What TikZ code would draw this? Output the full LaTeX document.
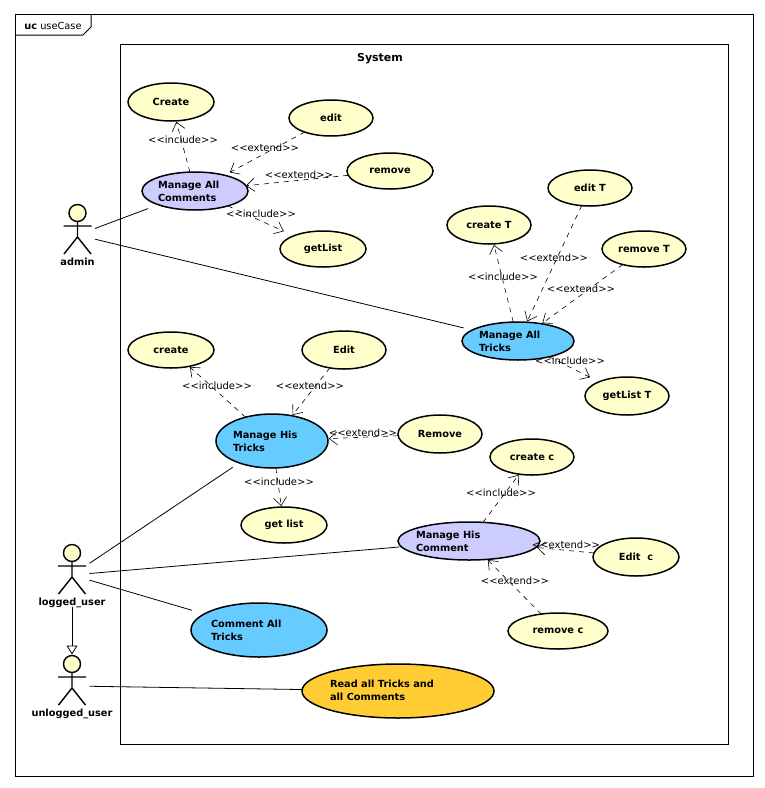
\documentclass[tikz,border=0pt]{standalone}
\usepackage{fontspec}
\setmainfont{DejaVu Sans}
\usetikzlibrary{arrows.meta,shapes.geometric}
\definecolor{case yellow}{HTML}{FFFFCC}
\definecolor{case lavender}{HTML}{CCCCFF}
\definecolor{case blue}{HTML}{66CCFF}
\definecolor{case orange}{HTML}{FFCC33}
\tikzset{
    x={1pt},
    y={-1pt},
    frame line/.style={
        draw=black,
        line width={1pt},
    },
    usecase/.style={
        ellipse, draw=black, fill={#1},
        line width={1.5pt},
        inner sep=0pt, outer sep=0pt,
        font={\fontsize{9.8}{12.5}\selectfont\bfseries},
    },
    usecase/.default={case yellow},
    case size/.style 2 args={
        minimum width={2*#1}, minimum height={2*#2},
    },
    case text/.style={
        anchor=west, align=left,
        inner sep=0pt, outer sep=0pt,
        font={\fontsize{9.8}{12.5}\selectfont\bfseries},
    },
    stereotype/.style={
        inner sep=0pt, outer sep=0pt,
        font={\fontsize{10}{12}\selectfont},
    },
    dependency/.style={
        draw=black,
        dash pattern=on 5pt off 5pt,
        line width={0.6pt},
        -{Straight Barb[length=8pt,width=13pt]},
    },
    association/.style={
        draw=black,
        line width={0.8pt},
    },
    generalization/.style={
        draw=black,
        line width={0.8pt},
        -{Triangle[open,length=9pt,width=11pt]},
    },
    actor/.style={
        rectangle, inner sep=0pt, outer sep=0pt,
        minimum width={35}, minimum height={63},
    },
    actor label/.style={
        inner sep=0pt, outer sep=0pt,
        font={\fontsize{9.8}{12}\selectfont\bfseries},
    },
    actor figure/.pic={
        \draw[line width={1.4pt}, fill=case yellow] (0,-22) circle [radius=8.5pt];
        \draw[line width={1.4pt}] (0,-13.5) -- (0,2) (-14,-9) -- (14,-9)
            (-13.5,19) -- (0,2) -- (13.5,19);
    },
}

\begin{document}
\begin{tikzpicture}
\useasboundingbox (0,0) rectangle (765,788);
% frames
\path[frame line] (15,14) rectangle (753,776);
\path[frame line] (15,35) -- (83,35) -- (91,27) -- (91,14);
\node[inner sep=0pt, font={\fontsize{9.8}{12}\selectfont}] (frame title) at (53,26) {\textbf{uc} useCase};
\path[frame line] (120,44) rectangle (728,744);
\node[inner sep=0pt, font={\fontsize{11}{13}\selectfont\bfseries}] (system title) at (380,59) {System};
% actors
\node[actor] (admin) at (77.5,235) {};
\node[actor] (logged) at (72,575) {};
\node[actor] (unlogged) at (72,686) {};
\pic at (admin) {actor figure};
\pic at (logged) {actor figure};
\pic at (unlogged) {actor figure};
\node[actor label] (admin label) at (77.5,262) {admin};
\node[actor label] (logged label) at (72,603) {logged\_user};
\node[actor label] (unlogged label) at (72,714) {unlogged\_user};
% use cases
\node[usecase, case size={43}{19}] (create a) at (171,102) {Create};
\node[usecase, case size={42}{18}] (edit a) at (331,118) {edit};
\node[usecase, case size={43}{18}] (remove a) at (390,171) {remove};
\node[usecase={case lavender}, case size={53}{19}] (manage comments) at (195,191) {};
\node[case text] (manage comments text) at (158,191.5) {Manage All\\Comments};
\node[usecase, case size={43}{18}] (getlist a) at (323,249) {getList};
\node[usecase, case size={42}{19}] (create t) at (489,225) {create T};
\node[usecase, case size={42}{18}] (edit t) at (590,188) {edit T};
\node[usecase, case size={42}{18}] (remove t) at (644,249) {remove T};
\node[usecase={case blue}, case size={56}{19}] (manage tricks) at (518,341) {};
\node[case text] (manage tricks text) at (479,341.5) {Manage All\\Tricks};
\node[usecase, case size={42}{19}] (getlist t) at (627,396) {getList T};
\node[usecase, case size={43}{18}] (create h) at (171,350) {create};
\node[usecase, case size={42}{19}] (edit h) at (344,350) {Edit};
\node[usecase={case blue}, case size={56}{27}] (his tricks) at (272,441) {};
\node[case text] (his tricks text) at (233,441.5) {Manage His\\Tricks};
\node[usecase, case size={42}{19}] (remove h) at (440,434) {Remove};
\node[usecase, case size={43}{18}] (getlist h) at (284,525) {get list};
\node[usecase, case size={42}{18}] (create c) at (532,457) {create c};
\node[usecase={case lavender}, case size={71}{19}] (his comment) at (469,541) {};
\node[case text] (his comment text) at (416,541.5) {Manage His\\Comment};
\node[usecase, case size={43}{19}] (edit c) at (636,557) {Edit~~c};
\node[usecase, case size={50}{18}] (remove c) at (558,631) {remove c};
\node[usecase={case blue}, case size={68}{27}] (comment tricks) at (259,630) {};
\node[case text] (comment tricks text) at (211,630.5) {Comment All\\Tricks};
\node[usecase={case orange}, case size={96}{27}] (read all) at (398,691) {};
\node[case text] (read all text) at (330,690.5) {Read all Tricks and\\all Comments};
% associations
\draw[association, shorten >=11pt] (admin) -- (manage comments);
\draw[association, shorten >=9pt] (admin) -- (manage tricks);
\draw[association, shorten >=8pt] (logged) -- (his tricks);
\draw[association, shorten >=2pt] (logged) -- (his comment);
\draw[association, shorten >=13pt] (logged) -- (comment tricks);
\draw[association] (unlogged) -- (read all);
\draw[generalization] (logged) -- (unlogged);
% dependencies
\draw[dependency, shorten >=1pt] (manage comments) -- (create a);
\draw[dependency, shorten >=6pt] (edit a) -- (manage comments);
\draw[dependency, shorten >=0pt] (remove a) -- (manage comments);
\draw[dependency, shorten >=11pt] (manage comments) -- (getlist a);
\draw[dependency, shorten >=1pt] (manage tricks) -- (create t);
\draw[dependency, shorten >=1pt] (edit t) -- (manage tricks);
\draw[dependency, shorten >=1pt] (remove t) -- (manage tricks);
\draw[dependency, shorten >=10pt] (manage tricks) -- (getlist t);
\draw[dependency, shorten >=1pt] (his tricks) -- (create h);
\draw[dependency, shorten >=1pt] (edit h) -- (his tricks);
\draw[dependency, shorten >=1pt] (remove h) -- (his tricks);
\draw[dependency, shorten >=1pt] (his tricks) -- (getlist h);
\draw[dependency, shorten >=1pt] (his comment) -- (create c);
\draw[dependency, shorten >=1pt] (edit c) -- (his comment);
\draw[dependency, shorten >=1pt] (remove c) -- (his comment);
% stereotypes
\node[stereotype] (inc a) at (183,140) {<{}<include>{}>};
\node[stereotype] (ext a) at (265,148) {<{}<extend>{}>};
\node[stereotype] (ext b) at (299,175) {<{}<extend>{}>};
\node[stereotype] (inc b) at (261,214) {<{}<include>{}>};
\node[stereotype] (inc c) at (503,277) {<{}<include>{}>};
\node[stereotype] (ext c) at (554,258) {<{}<extend>{}>};
\node[stereotype] (ext d) at (581,289) {<{}<extend>{}>};
\node[stereotype] (inc d) at (570,361) {<{}<include>{}>};
\node[stereotype] (inc e) at (217,386) {<{}<include>{}>};
\node[stereotype] (ext e) at (310,386) {<{}<extend>{}>};
\node[stereotype] (ext f) at (363,433) {<{}<extend>{}>};
\node[stereotype] (inc f) at (279,482) {<{}<include>{}>};
\node[stereotype] (inc g) at (501,493) {<{}<include>{}>};
\node[stereotype] (ext g) at (566,545) {<{}<extend>{}>};
\node[stereotype] (ext h) at (515,581) {<{}<extend>{}>};
\end{tikzpicture}
\end{document}
